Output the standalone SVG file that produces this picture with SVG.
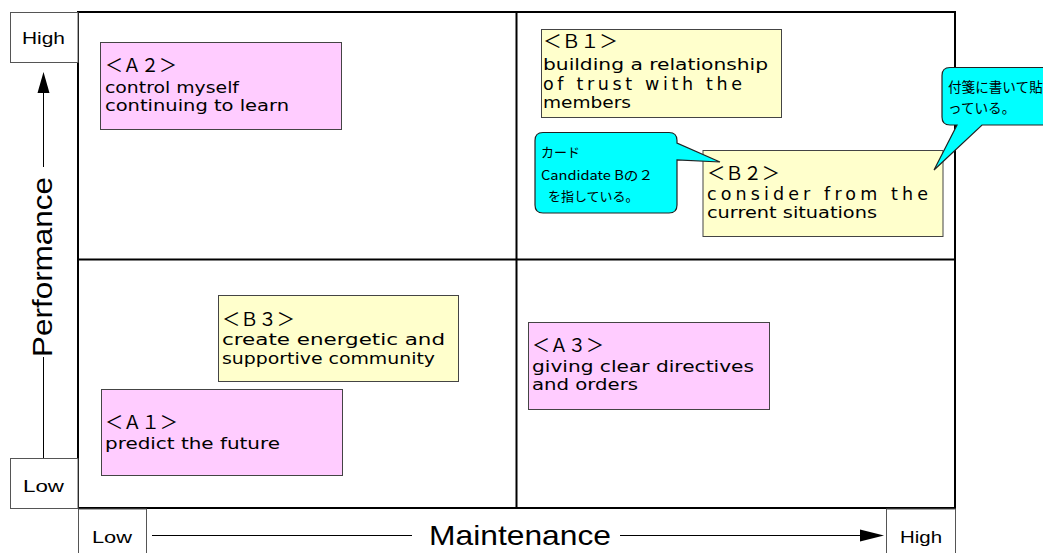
<svg xmlns="http://www.w3.org/2000/svg" width="1043" height="553" viewBox="0 0 1043 553">
<style>
.card{stroke:#444;stroke-width:1}
.pink{fill:#FFCCFF}
.yellow{fill:#FFFFCC}
.ct{font-family:"DejaVu Sans","Noto Sans CJK JP",sans-serif;font-size:16px;fill:#000}
.big{font-size:17.5px}
.tag{font-family:"Noto Sans CJK JP",sans-serif;font-size:18px;fill:#000}
.lbl{font-family:"Liberation Sans","Noto Sans CJK JP",sans-serif;font-size:16px;fill:#000}
.ax{font-family:"Liberation Sans",sans-serif;font-size:28px;fill:#000}
.abox{fill:#fff;stroke:#555;stroke-width:1}
.axis{stroke:#000;stroke-width:1;fill:none}
.call{fill:#00FFFF;stroke:#222;stroke-width:1.2}
.cjk{font-family:"Noto Sans CJK JP",sans-serif;font-size:13px;fill:#000}
</style>
<rect width="1043" height="553" fill="#fff"/>
<g id="frame">
<rect x="78" y="12" width="877" height="496" fill="none" stroke="#000" stroke-width="2"/>
<line x1="516.5" y1="12" x2="516.5" y2="508" stroke="#000" stroke-width="2"/>
<line x1="78" y1="259.5" x2="955" y2="259.5" stroke="#000" stroke-width="2"/>
</g>
<g id="axis-performance">
<rect class="abox" x="10.5" y="12.5" width="67.5" height="50"/>
<text class="lbl" x="22" y="44" textLength="43" lengthAdjust="spacingAndGlyphs">High</text>
<rect class="abox" x="10.5" y="458.5" width="67.5" height="50"/>
<text class="lbl" x="23" y="492" textLength="41" lengthAdjust="spacingAndGlyphs">Low</text>
<text class="ax" transform="translate(52,267) rotate(-90)" text-anchor="middle" textLength="180" lengthAdjust="spacingAndGlyphs">Performance</text>
</g>
<g id="axis-maintenance">
<rect class="abox" x="78.5" y="509" width="68" height="60"/>
<text class="lbl" x="92" y="543" textLength="40" lengthAdjust="spacingAndGlyphs">Low</text>
<rect class="abox" x="886.5" y="509" width="69" height="60"/>
<text class="lbl" x="900" y="543" textLength="42" lengthAdjust="spacingAndGlyphs">High</text>
<text class="ax" x="429" y="545" textLength="182" lengthAdjust="spacingAndGlyphs">Maintenance</text>
</g>
<g id="connectors">
<line class="axis" x1="43.5" y1="90" x2="43.5" y2="167"/>
<line class="axis" x1="43.5" y1="357" x2="43.5" y2="458"/>
<polygon points="43.5,72 37.5,93 49.5,93" fill="#000"/>
<line class="axis" x1="152" y1="535.5" x2="412" y2="535.5"/>
<line class="axis" x1="620" y1="535.5" x2="862" y2="535.5"/>
<polygon points="884,535.5 860,529.5 860,541.5" fill="#000"/>
</g>
<g id="A2">
<rect class="card pink" x="100.5" y="42.5" width="241" height="87"/>
<text class="tag" x="105" y="72" textLength="72" lengthAdjust="spacingAndGlyphs">＜Ａ２＞</text>
<text class="ct" x="105" y="93" textLength="134" lengthAdjust="spacingAndGlyphs">control myself</text>
<text class="ct" x="105" y="111" textLength="184" lengthAdjust="spacingAndGlyphs">continuing to learn</text>
</g>
<g id="B1">
<rect class="card yellow" x="541.5" y="29.5" width="240" height="88"/>
<text class="tag" x="543" y="48" textLength="75" lengthAdjust="spacingAndGlyphs">＜Ｂ１＞</text>
<text class="ct" x="543" y="70" textLength="225" lengthAdjust="spacingAndGlyphs">building a relationship</text>
<text class="ct big" x="543" y="90" textLength="199" lengthAdjust="spacing">of trust with the</text>
<text class="ct" x="543" y="108" textLength="88" lengthAdjust="spacingAndGlyphs">members</text>
</g>
<g id="B2">
<rect class="card yellow" x="703" y="150.5" width="240" height="86"/>
<text class="tag" x="707" y="180" textLength="73" lengthAdjust="spacingAndGlyphs">＜Ｂ２＞</text>
<text class="ct big" x="707" y="200" textLength="221" lengthAdjust="spacing">consider from the</text>
<text class="ct" x="707" y="218" textLength="170" lengthAdjust="spacingAndGlyphs">current situations</text>
</g>
<g id="B3">
<rect class="card yellow" x="218.5" y="295.5" width="240" height="86"/>
<text class="tag" x="222" y="326" textLength="73" lengthAdjust="spacingAndGlyphs">＜Ｂ３＞</text>
<text class="ct" x="222" y="345" textLength="223" lengthAdjust="spacingAndGlyphs">create energetic and</text>
<text class="ct" x="222" y="364" textLength="213" lengthAdjust="spacingAndGlyphs">supportive community</text>
</g>
<g id="A1">
<rect class="card pink" x="101.5" y="389.5" width="241" height="86"/>
<text class="tag" x="105" y="429" textLength="73" lengthAdjust="spacingAndGlyphs">＜Ａ１＞</text>
<text class="ct" x="105" y="449" textLength="175" lengthAdjust="spacingAndGlyphs">predict the future</text>
</g>
<g id="A3">
<rect class="card pink" x="528.5" y="322.5" width="241" height="87"/>
<text class="tag" x="532" y="352" textLength="72" lengthAdjust="spacingAndGlyphs">＜Ａ３＞</text>
<text class="ct" x="532" y="372" textLength="222" lengthAdjust="spacingAndGlyphs">giving clear directives</text>
<text class="ct" x="532" y="390" textLength="106" lengthAdjust="spacingAndGlyphs">and orders</text>
</g>
<g id="callout-card">
<path class="call" d="M543,132.5 H669 Q677,132.5 677,140.5 V143 L720,162 L677,160 V205 Q677,213 669,213 H543 Q535,213 535,205 V140.5 Q535,132.5 543,132.5 Z"/>
<text class="cjk" x="541" y="157">カード</text>
<text class="cjk" x="541" y="180" textLength="112" lengthAdjust="spacingAndGlyphs">Candidate Bの２</text>
<text class="cjk" x="548" y="201">を指している。</text>
</g>
<g id="callout-sticky">
<path class="call" d="M950,67.5 H1100 V125 H982 L934,170 L957,125 H950 Q942,125 942,117 V75.5 Q942,67.5 950,67.5 Z"/>
<text class="cjk" x="948" y="92" style="font-size:13.6px">付箋に書いて貼</text>
<text class="cjk" x="948" y="113" style="font-size:13.6px">っている。</text>
</g>
</svg>
